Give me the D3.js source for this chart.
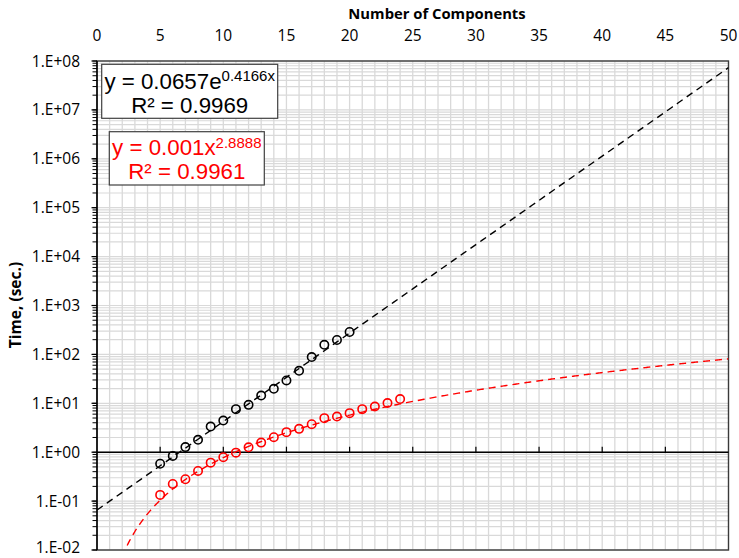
<!DOCTYPE html>
<html><head><meta charset="utf-8">
<script src="https://cdn.jsdelivr.net/npm/d3@7"></script>
<style>
html,body{margin:0;padding:0;background:#fff;}
svg{display:block;}
</style>
</head><body>
<svg id="chart" width="739" height="558"></svg>
<script>
// ---- Data ----
const expComponents = [5,6,7,8,9,10,11,12,13,14,15,16,17,18,19,20];
const expTimes = [0.58,0.84,1.27,1.79,3.34,4.44,7.6,9.3,14.4,19.8,29.3,46.2,88.3,157,197,287];
const powComponents = [5,6,7,8,9,10,11,12,13,14,15,16,17,18,19,20,21,22,23,24];
const powTimes = [0.134,0.224,0.28,0.414,0.612,0.79,0.98,1.26,1.57,2.03,2.57,3.0,3.74,4.97,5.36,6.29,7.6,8.59,10.1,12.2];
const xTicks = [0,5,10,15,20,25,30,35,40,45,50];
const yTicks = [1e-2,1e-1,1e0,1e1,1e2,1e3,1e4,1e5,1e6,1e7,1e8];
const yTickLabels = ["1.E-02","1.E-01","1.E+00","1.E+01","1.E+02","1.E+03","1.E+04","1.E+05","1.E+06","1.E+07","1.E+08"];
const expFit = {a:0.0657, b:0.4166};
const powFit = {a:0.001, b:2.8888};
const expLabel = {main:"y = 0.0657e", sup:"0.4166x", r2:"R² = 0.9969"};
const powLabel = {main:"y = 0.001x", sup:"2.8888", r2:"R² = 0.9961"};
const xTitle = "Number of Components";
const yTitle = "Time, (sec.)";

// ---- Layout ----
const L=97, R=728.5, T=61, B=550;
const svg = d3.select("#chart");
const x = d3.scaleLinear().domain([0,50]).range([L,R]);
const y = d3.scaleLog().domain([1e-2,1e8]).range([B,T]);
const lblFont = "'Open Sans', Lato, sans-serif";

// gridlines
const grid = svg.append("g");
d3.range(1,50).forEach(v=>{
  grid.append("line").attr("x1",x(v)).attr("x2",x(v)).attr("y1",T).attr("y2",B)
    .attr("stroke","#d9d9d9").attr("stroke-width",1.3);
});
const minorVals=[];
for(let e=-2;e<8;e++){ for(let m=1;m<10;m++){ minorVals.push(m*Math.pow(10,e)); } }
minorVals.push(1e8);
minorVals.forEach(v=>{
  grid.append("line").attr("x1",L).attr("x2",R).attr("y1",y(v)).attr("y2",y(v))
    .attr("stroke","#d9d9d9").attr("stroke-width",1.2);
});

// plot border
svg.append("rect").attr("x",L).attr("y",T).attr("width",R-L).attr("height",B-T)
  .attr("fill","none").attr("stroke","#3a3a3a").attr("stroke-width",1.4);

// y axis (left) with minor ticks
const yAxisG = svg.append("g").attr("transform",`translate(${L},0)`);
yAxisG.append("line").attr("x1",0).attr("x2",0).attr("y1",T).attr("y2",B).attr("stroke","#000").attr("stroke-width",1.4);
minorVals.forEach(v=>{
  yAxisG.append("line").attr("x1",-4.5).attr("x2",0).attr("y1",y(v)).attr("y2",y(v)).attr("stroke","#000").attr("stroke-width",1);
});
yTicks.forEach((v,i)=>{
  yAxisG.append("line").attr("x1",-5.5).attr("x2",0).attr("y1",y(v)).attr("y2",y(v)).attr("stroke","#000").attr("stroke-width",1.2);
  const ty = Math.min(y(v), 547.5);
  yAxisG.append("text").attr("x",-17).attr("y",ty).attr("dy","0.36em")
    .attr("text-anchor","end").attr("font-family",lblFont).attr("font-size",15.5).attr("fill","#000")
    .text(yTickLabels[i]);
});

// horizontal axis crossing at y=1
const xAxisY = y(1);
svg.append("line").attr("x1",L).attr("x2",R).attr("y1",xAxisY).attr("y2",xAxisY).attr("stroke","#000").attr("stroke-width",1.4);
xTicks.forEach(v=>{
  if(v>0 && v<50) svg.append("line").attr("x1",x(v)).attr("x2",x(v)).attr("y1",xAxisY-5.5).attr("y2",xAxisY).attr("stroke","#000").attr("stroke-width",1.2);
  svg.append("text").attr("x",x(v)).attr("y",41).attr("text-anchor","middle")
    .attr("font-family",lblFont).attr("font-size",15.5).attr("fill","#000").text(v);
});

// titles
svg.append("text").attr("x",437).attr("y",19).attr("text-anchor","middle")
  .attr("font-family",lblFont).attr("font-weight","bold").attr("font-size",14.8).attr("fill","#000").text(xTitle);
svg.append("text").attr("transform",`translate(21,305) rotate(-90)`).attr("text-anchor","middle")
  .attr("font-family",lblFont).attr("font-weight","bold").attr("font-size",15.5).attr("fill","#000").text(yTitle);

// clip
svg.append("clipPath").attr("id","clip").append("rect").attr("x",L).attr("y",T).attr("width",R-L).attr("height",B-T);

// trendlines
const line = d3.line().x(d=>x(d[0])).y(d=>y(d[1]));
const xsExp = d3.range(0,50.001,0.5);
svg.append("path").attr("clip-path","url(#clip)")
  .attr("d",line(xsExp.map(v=>[v,expFit.a*Math.exp(expFit.b*v)])))
  .attr("fill","none").attr("stroke","#000").attr("stroke-width",1.4).attr("stroke-dasharray","7,5");
const xsPow = d3.range(2.0,50.001,0.1);
svg.append("path").attr("clip-path","url(#clip)")
  .attr("d",line(xsPow.map(v=>[v,powFit.a*Math.pow(v,powFit.b)])))
  .attr("fill","none").attr("stroke","#ff0000").attr("stroke-width",1.4).attr("stroke-dasharray","7,5");

// points
svg.append("g").selectAll("circle").data(expComponents.map((c,i)=>[c,expTimes[i]])).join("circle")
  .attr("cx",d=>x(d[0])).attr("cy",d=>y(d[1])).attr("r",4.2)
  .attr("fill","none").attr("stroke","#000").attr("stroke-width",1.6);
svg.append("g").selectAll("circle").data(powComponents.map((c,i)=>[c,powTimes[i]])).join("circle")
  .attr("cx",d=>x(d[0])).attr("cy",d=>y(d[1])).attr("r",4.2)
  .attr("fill","none").attr("stroke","#ff0000").attr("stroke-width",1.6);

// equation labels
function eqBox(bx,by,bw,bh,lab,color,b1,b2){
  const g = svg.append("g");
  g.append("rect").attr("x",bx).attr("y",by).attr("width",bw).attr("height",bh)
    .attr("fill","#fff").attr("stroke","#404040").attr("stroke-width",1.2);
  const cx = bx+bw/2;
  const t1 = g.append("text").attr("x",cx).attr("y",b1).attr("text-anchor","middle")
    .attr("font-family","'Liberation Sans', Arial, sans-serif").attr("font-size",22.3).attr("fill",color);
  t1.append("tspan").text(lab.main);
  t1.append("tspan").attr("dy",-7.5).attr("font-size",15).text(lab.sup);
  g.append("text").attr("x",cx).attr("y",b2).attr("text-anchor","middle")
    .attr("font-family","'Liberation Sans', Arial, sans-serif").attr("font-size",22.3).attr("fill",color)
    .text(lab.r2);
}
eqBox(101.7,64.3,176,54,expLabel,"#000",88.5,113);
eqBox(109.3,131.7,155,53.3,powLabel,"#ff0000",155,179);
</script>
</body></html>
